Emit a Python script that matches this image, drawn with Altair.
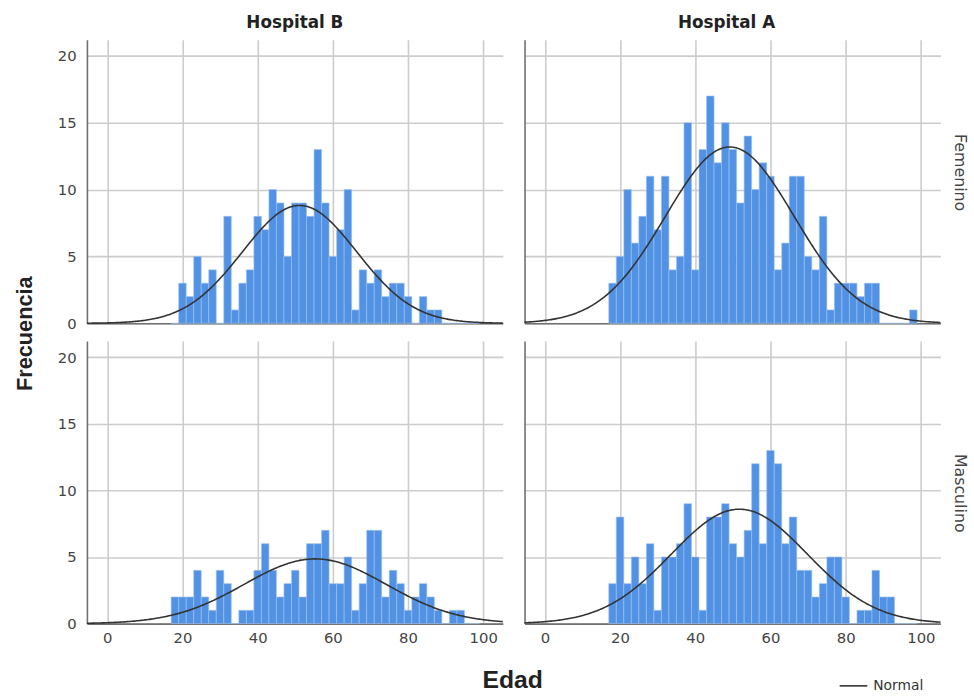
import altair as alt
import numpy as np
import pandas as pd

# Age bins (2-year width, left edges)
bin_start = list(range(17, 99, 2))
bin_width = 2

# Frequencies per bin, by hospital and sex
b_femenino = [0, 3, 2, 5, 3, 4, 0, 8, 1, 3,
              4, 8, 7, 10, 9, 5, 9, 9, 8, 13,
              9, 5, 7, 10, 1, 4, 3, 4, 2, 3,
              3, 2, 0, 2, 1, 1, 0, 0, 0, 0,
              0]
a_femenino = [3, 5, 10, 6, 8, 11, 7, 11, 4, 5,
              15, 4, 13, 17, 12, 15, 13, 9, 14, 10,
              12, 11, 4, 6, 11, 11, 5, 4, 8, 1,
              3, 3, 3, 2, 3, 3, 0, 0, 0, 0,
              1]
b_masculino = [2, 2, 2, 4, 2, 1, 4, 3, 0, 1,
               1, 4, 6, 4, 2, 3, 4, 2, 6, 6,
               7, 3, 3, 5, 1, 3, 7, 7, 2, 4,
               3, 1, 2, 3, 2, 1, 0, 1, 1, 0,
               0]
a_masculino = [3, 8, 3, 5, 3, 6, 1, 5, 5, 6,
               9, 5, 1, 8, 8, 9, 6, 5, 7, 12,
               6, 13, 12, 6, 8, 4, 4, 2, 3, 5,
               5, 2, 0, 1, 1, 4, 2, 2, 0, 0,
               0]

x_ticks = [0, 20, 40, 60, 80, 100]
y_ticks = [0, 5, 10, 15, 20]
X_DOMAIN = [-5.4, 105.2]
Y_DOMAIN = [0, 21.2]

FONT = "DejaVu Sans"
TITLE_FONT = "Liberation Sans"
BAR_COLOR = "#5292e4"
PANEL_W = 421


def bars_frame(counts):
    return pd.DataFrame({
        "start": bin_start,
        "end": [s + bin_width for s in bin_start],
        "count": counts,
    })


def normal_frame(counts):
    # Normal curve fitted to the histogram (mean and sd of the binned ages)
    c = np.array(counts, dtype=float)
    mids = np.array(bin_start, dtype=float) + bin_width / 2
    n = c.sum()
    mean = (c * mids).sum() / n
    sd = np.sqrt((c * (mids - mean) ** 2).sum() / (n - 1))
    xs = np.linspace(X_DOMAIN[0], X_DOMAIN[1], 300)
    ys = n * bin_width / (sd * np.sqrt(2 * np.pi)) * np.exp(-0.5 * ((xs - mean) / sd) ** 2)
    return pd.DataFrame({"x": xs, "y": ys, "serie": "Normal"})


def panel(counts, height, show_x, show_y, title=None, title_dx=0):
    xscale = alt.Scale(domain=X_DOMAIN, nice=False, zero=False)
    yscale = alt.Scale(domain=Y_DOMAIN, nice=False)
    xaxis = alt.Axis(values=x_ticks, labels=show_x, ticks=False, title=None,
                     labelPadding=7)
    yaxis = alt.Axis(values=y_ticks, labels=show_y, ticks=False, title=None,
                     labelPadding=11)

    bars = alt.Chart(bars_frame(counts)).mark_rect(
        color=BAR_COLOR, stroke="#9fc2f0", strokeWidth=0.6
    ).encode(
        x=alt.X("start:Q", scale=xscale, axis=xaxis),
        x2="end:Q",
        y=alt.Y("count:Q", scale=yscale, axis=yaxis),
    )
    curve = alt.Chart(normal_frame(counts)).mark_line(
        strokeWidth=1.6
    ).encode(
        x=alt.X("x:Q", scale=xscale, axis=xaxis),
        y=alt.Y("y:Q", scale=yscale, axis=yaxis),
        color=alt.Color(
            "serie:N",
            scale=alt.Scale(domain=["Normal"], range=["#333333"]),
            legend=alt.Legend(
                title=None, orient="none", legendX=761, legendY=639,
                symbolType="stroke", symbolSize=784, symbolStrokeWidth=1.6,
                labelFontSize=14, labelColor="#333333", labelFont=FONT,
                labelOffset=5,
            ),
        ),
    )
    layer = alt.layer(bars, curve).properties(width=PANEL_W, height=height)
    if title:
        layer = layer.properties(title=alt.TitleParams(
            text=title, fontSize=17, font=FONT, fontWeight="bold",
            color="#222222", offset=8, anchor="middle", dx=title_dx))
    return layer


row_title = dict(fontSize=16, font=FONT, fontWeight="normal", color="#444444",
                 orient="right", anchor="middle", offset=9)

row1 = alt.hconcat(
    panel(b_femenino, 287, False, True, "Hospital B"),
    panel(a_femenino, 287, False, False, "Hospital A", title_dx=-6),
    spacing=14,
).properties(title=alt.TitleParams(text="Femenino", **row_title))

row2 = alt.hconcat(
    panel(b_masculino, 286, True, True),
    panel(a_masculino, 286, True, False),
    spacing=14,
).properties(title=alt.TitleParams(text="Masculino", **row_title))

grid = alt.vconcat(row1, row2, spacing=10).properties(
    title=alt.TitleParams(text="Edad", orient="bottom", fontSize=25, font=TITLE_FONT,
                          fontWeight="bold", color="#222222", offset=23,
                          anchor="middle"))

chart = alt.hconcat(grid).properties(
    title=alt.TitleParams(text="Frecuencia", orient="left", fontSize=22, font=TITLE_FONT,
                          fontWeight="bold", color="#222222", offset=21,
                          anchor="middle", dx=20),
    padding={"left": 13, "top": 10, "right": 5, "bottom": 2},
).configure_view(
    stroke=None
).configure_axis(
    labelFont=FONT, labelFontSize=15, labelColor="#444444",
    gridColor="#cccccc", gridWidth=1.6,
    domainColor="#707070", domainWidth=1.6,
).configure_concat(spacing=10)

chart.save("out.html", embed_options={"renderer": "svg", "actions": False})
